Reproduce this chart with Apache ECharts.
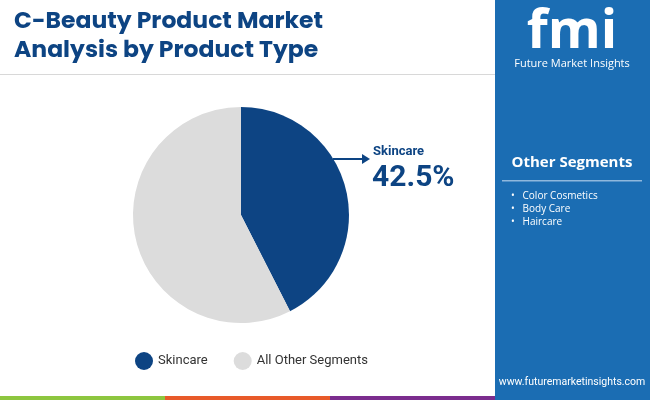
<!DOCTYPE html>
<html><head><meta charset="utf-8">
<script src="https://cdn.jsdelivr.net/npm/echarts@6/dist/echarts.min.js"></script>
<style>html,body{margin:0;padding:0}#c{width:650px;height:400px}</style>
</head><body><div id="c"></div>
<script>
const categories = ['Skincare', 'All Other Segments'];
const values = [42.5, 57.5];
const colors = ['#0d4483', '#dcdcdc'];
const otherSegments = ['Color Cosmetics', 'Body Care', 'Haircare'];

const chart = echarts.init(document.getElementById('c'));
const F = 'Roboto';
const g = [
  {type:'rect', shape:{x:495,y:0,width:155,height:400}, style:{fill:'#1b6db3'}, z:0},
  {type:'rect', shape:{x:0,y:74,width:495,height:1}, style:{fill:'#d8d8d8'}},
  {type:'text', left:14, top:8, style:{text:'C-Beauty Product Market\nAnalysis by Product Type', font:'bold 23.5px Poppins, "Open Sans", sans-serif', fill:'#0d4483', lineHeight:29}},
  {type:'text', x:572, y:6, style:{text:'fmi', font:'bold 54px "Open Sans", sans-serif', fill:'#ffffff', align:'center'}},
  {type:'text', x:572, y:58, style:{text:'Future Market Insights', font:'11px "Open Sans", sans-serif', fill:'#ffffff', align:'center'}},
  {type:'text', x:572, y:155, style:{text:'Other Segments', font:'bold 15px "Open Sans", sans-serif', fill:'#ffffff', align:'center'}},
  {type:'rect', shape:{x:502,y:180,width:140,height:1.5}, style:{fill:'#8fb8dd'}},
  {type:'text', x:572, y:377, style:{text:'www.futuremarketinsights.com', font:'10.5px Roboto, sans-serif', fill:'#ffffff', align:'center'}},
  {type:'rect', shape:{x:0,y:396,width:165,height:4}, style:{fill:'#8dc63f'}},
  {type:'rect', shape:{x:165,y:396,width:165,height:4}, style:{fill:'#e85a2a'}},
  {type:'rect', shape:{x:330,y:396,width:165,height:4}, style:{fill:'#7b2d8e'}},
  {type:'line', shape:{x1:333,y1:159,x2:362,y2:159}, style:{stroke:'#0d4483', lineWidth:2}},
  {type:'polygon', shape:{points:[[362,154],[370,159],[362,164]]}, style:{fill:'#0d4483'}},
  {type:'text', x:373, y:145, style:{text:categories[0], font:'bold 13px Roboto, sans-serif', fill:'#0d4483'}},
  {type:'text', x:372, y:163, style:{text:values[0].toFixed(1)+'%', font:'bold 30px Roboto, sans-serif', fill:'#0d4483'}}
];
otherSegments.forEach((s,i)=>{
  g.push({type:'text', x:511, y:191+i*13, style:{text:'•   '+s, font:'10px "Open Sans", sans-serif', fill:'#ffffff'}});
});
chart.setOption({
  animation:false,
  legend:{data:categories, left:130, top:347, icon:'circle', itemWidth:18, itemHeight:18, itemGap:26,
    textStyle:{fontFamily:F, fontSize:13, color:'#333'}},
  graphic:g,
  series:[{type:'pie', center:[241,215], radius:[0,108], startAngle:90, clockwise:true,
    label:{show:false}, labelLine:{show:false}, silent:true,
    data:categories.map((c,i)=>({name:c, value:values[i], itemStyle:{color:colors[i]}}))}]
});
</script></body></html>
